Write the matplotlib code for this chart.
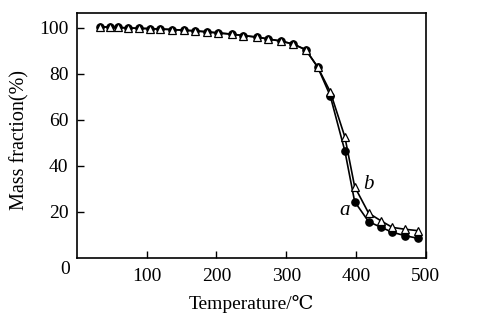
import matplotlib
matplotlib.use("Agg")
import matplotlib.pyplot as plt

# Data
temp = [33, 48, 59, 73, 89, 105, 119, 136, 154, 170, 186, 203, 222, 238, 258,
        274, 292, 310, 328, 345, 363, 384, 398, 418, 436, 452, 470, 488]
mass_a = [100.5, 100.3, 100.2, 100.0, 99.8, 99.7, 99.5, 99.3, 99.0, 98.7, 98.3,
          97.8, 97.3, 96.7, 96.0, 95.2, 94.3, 93.0, 90.5, 83.0, 70.5, 46.5,
          24.5, 15.8, 13.3, 11.2, 9.7, 8.6]
mass_b = [100.5, 100.3, 100.2, 100.0, 99.8, 99.7, 99.5, 99.3, 99.0, 98.7, 98.3,
          97.8, 97.3, 96.7, 96.0, 95.2, 94.3, 93.0, 90.5, 83.0, 72.3, 52.6,
          31.0, 19.5, 16.1, 13.3, 12.5, 11.9]
xticks = [100, 200, 300, 400, 500]
yticks = [20, 40, 60, 80, 100]

fam = ['Liberation Serif', 'DejaVu Serif', 'Noto Sans CJK SC']
plt.rcParams['font.family'] = fam

fig = plt.figure(figsize=(4.99, 3.24), dpi=100)
ax = fig.add_axes([0.1537, 0.2037, 0.6998, 0.7563])

ax.plot(temp, mass_a, '-', color='black', lw=1.2, marker='o', ms=5.2,
        mfc='black', mec='black', zorder=3)
ax.plot(temp, mass_b, '-', color='black', lw=1.2, marker='^', ms=6,
        mfc='white', mec='black', mew=0.9, zorder=4)

ax.set_xlim(0, 500)
ax.set_ylim(0, 106.5)
ax.set_xticks(xticks)
ax.set_yticks(yticks)
ax.tick_params(direction='in', length=5, width=1, labelsize=14, colors='black')
ax.tick_params(axis='x', pad=7)
ax.tick_params(axis='y', pad=6)
for s in ax.spines.values():
    s.set_linewidth(1.2)

ax.text(-0.02, -0.045, '0', transform=ax.transAxes, fontsize=14,
        ha='right', va='center')

ax.set_xlabel('Temperature/℃', fontsize=14, family=fam)
ax.set_ylabel('Mass fraction(%)', fontsize=14.5)
ax.xaxis.set_label_coords(0.5, -0.15)
ax.yaxis.set_label_coords(-0.136, 0.48)

ax.text(384, 20.5, 'a', fontsize=15, style='italic', ha='center', va='center')
ax.text(418, 32, 'b', fontsize=15, style='italic', ha='center', va='center')

fig.savefig('out.png', dpi=100)
